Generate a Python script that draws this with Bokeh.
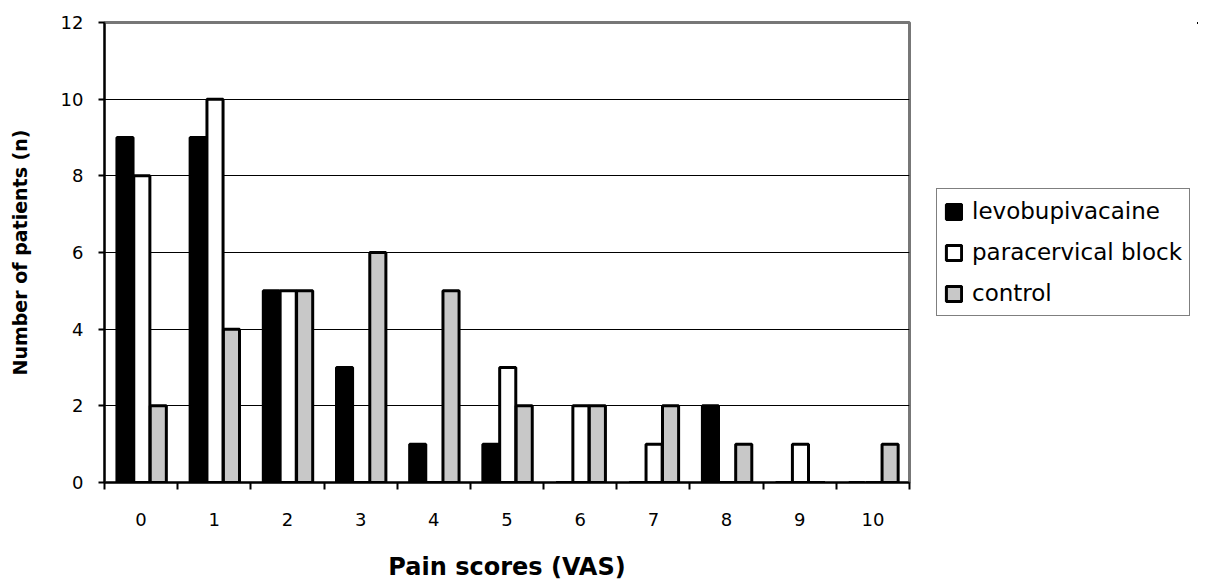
from bokeh.plotting import figure
from bokeh.models import ColumnDataSource, Range1d, FixedTicker, Legend, LegendItem
from bokeh.layouts import row
from bokeh.transform import dodge
from bokeh.embed import file_html
from bokeh.resources import INLINE

pain = [0, 1, 2, 3, 4, 5, 6, 7, 8, 9, 10]
levobupivacaine = [9, 9, 5, 3, 1, 1, 0, 0, 2, 0, 0]
paracervical = [8, 10, 5, 0, 0, 3, 2, 1, 0, 1, 0]
control = [2, 4, 5, 6, 5, 2, 2, 2, 1, 0, 1]
series_names = ["levobupivacaine", "paracervical block", "control"]
series_cols = ["levo", "para", "ctrl"]
y_ticks = [0, 2, 4, 6, 8, 10, 12]

src = ColumnDataSource(dict(pain=pain, levo=levobupivacaine, para=paracervical, ctrl=control))

FONT = "DejaVu Sans"
FILLS = ["black", "white", "#c8c8c8"]

p = figure(frame_width=805, frame_height=460, output_backend="svg", toolbar_location=None,
           x_range=Range1d(-0.5, 10.5), y_range=Range1d(0, 12),
           min_border_left=104, min_border_right=2, min_border_top=22, min_border_bottom=98)

p.background_fill_color = "white"
p.border_fill_color = "white"
p.outline_line_color = "#777777"
p.outline_line_width = 3

W = 0.22
p.vbar(x=dodge("pain", -0.22), top="levo", width=W, source=src,
       fill_color=FILLS[0], line_color="black", line_width=3)
p.vbar(x=dodge("pain", 0.01), top="para", width=W, source=src,
       fill_color=FILLS[1], line_color="black", line_width=3)
p.vbar(x=dodge("pain", 0.235), top="ctrl", width=W, source=src,
       fill_color=FILLS[2], line_color="black", line_width=3)

# grid
p.xgrid.visible = False
p.ygrid.ticker = FixedTicker(ticks=y_ticks[1:-1])
p.ygrid.grid_line_color = "black"
p.ygrid.grid_line_width = 1
p.ygrid.level = "underlay"

# x axis
xa = p.xaxis[0]
xa.ticker = FixedTicker(ticks=pain, minor_ticks=[i - 0.5 for i in range(12)])
xa.major_tick_out = 0
xa.major_tick_in = 0
xa.minor_tick_out = 7
xa.minor_tick_in = 0
xa.minor_tick_line_color = "black"
xa.minor_tick_line_width = 2
xa.axis_line_color = "black"
xa.axis_line_width = 2
xa.major_label_standoff = 23
xa.major_label_text_font = FONT
xa.major_label_text_font_size = "18px"
xa.major_label_text_color = "black"
xa.axis_label = "Pain scores (VAS)"
xa.axis_label_text_font = FONT
xa.axis_label_text_font_size = "24px"
xa.axis_label_text_font_style = "bold"
xa.axis_label_text_color = "black"
xa.axis_label_standoff = 24

# y axis
ya = p.yaxis[0]
ya.ticker = FixedTicker(ticks=y_ticks)
ya.minor_tick_line_color = None
ya.major_tick_out = 6
ya.major_tick_in = 0
ya.major_tick_line_color = "black"
ya.major_tick_line_width = 2
ya.axis_line_color = "black"
ya.axis_line_width = 2
ya.major_label_standoff = 15
ya.major_label_text_font = FONT
ya.major_label_text_font_size = "18px"
ya.major_label_text_color = "black"
ya.axis_label = "Number of patients (n)"
ya.axis_label_text_font = FONT
ya.axis_label_text_font_size = "19px"
ya.axis_label_text_font_style = "bold"
ya.axis_label_text_color = "black"
ya.axis_label_standoff = 27

# legend panel (separate figure to the right of the plot; its bars lie outside its ranges)
lf = figure(width=287, height=580, output_backend="svg", toolbar_location=None,
            x_range=Range1d(-100, -99), y_range=Range1d(-100, -99),
            x_axis_location=None, y_axis_location=None,
            min_border=0)
lf.outline_line_color = None
lf.background_fill_color = "white"
lf.border_fill_color = "white"
lf.xgrid.visible = False
lf.ygrid.visible = False

items = []
for name, col, fill in zip(series_names, series_cols, FILLS):
    r = lf.vbar(x="pain", top=col, width=W, source=src,
                fill_color=fill, line_color="black", line_width=3)
    items.append(LegendItem(label=name, renderers=[r]))

legend = Legend(items=items, location=(25, 163))
legend.border_line_color = "black"
legend.border_line_width = 1.5
legend.background_fill_color = "white"
legend.background_fill_alpha = 1
legend.padding = 7
legend.spacing = 11
legend.glyph_width = 19
legend.glyph_height = 19
legend.label_height = 30
legend.label_standoff = 9
legend.label_text_font = FONT
legend.label_text_font_size = "23px"
legend.label_text_color = "black"
legend.margin = 0
lf.add_layout(legend, "center")

layout = row(p, lf)
open("out.html", "w").write(file_html(layout, INLINE))
